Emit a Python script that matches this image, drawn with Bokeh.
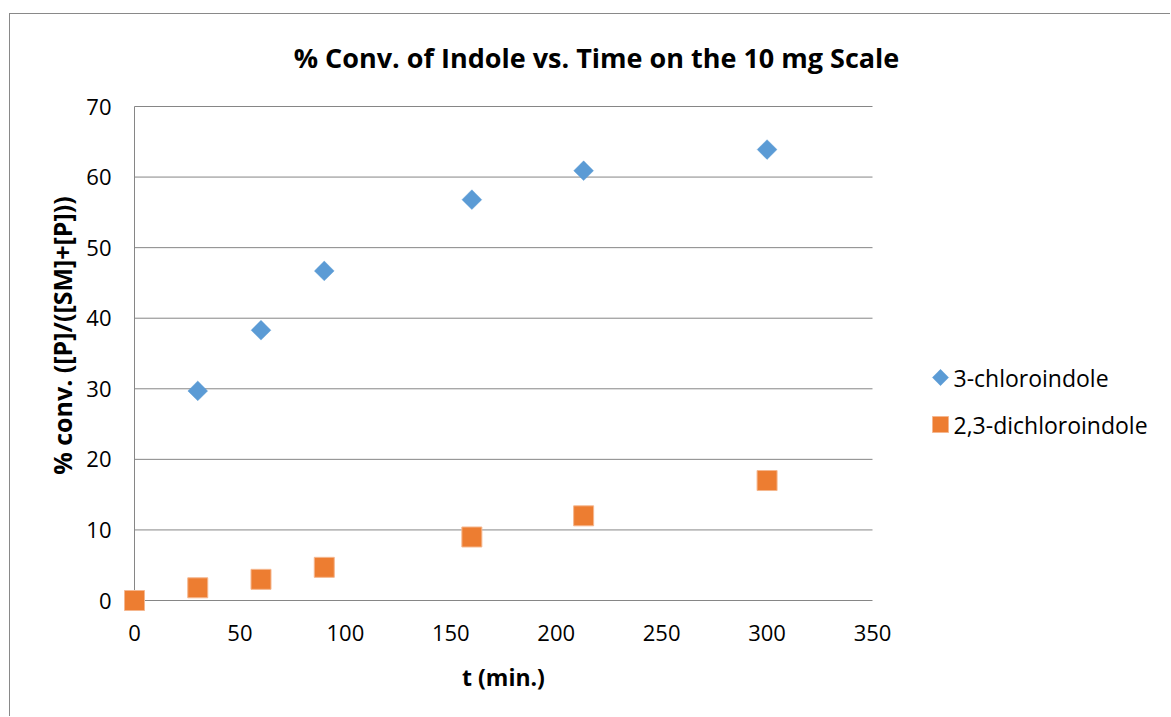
import math
from bokeh.plotting import figure
from bokeh.models import Label, FixedTicker
from bokeh.embed import file_html
from bokeh.resources import INLINE

title_text = "% Conv. of Indole vs. Time on the 10 mg Scale"
x_label = "t (min.)"
y_label = "% conv. ([P]/([SM]+[P]))"
series_names = ["3-chloroindole", "2,3-dichloroindole"]

t_chloro = [30, 60, 90, 160, 213, 300]
conv_chloro = [29.7, 38.3, 46.7, 56.8, 60.9, 63.9]

t_dichloro = [0, 30, 60, 90, 160, 213, 300]
conv_dichloro = [0.0, 1.8, 3.0, 4.7, 9.0, 12.0, 17.0]

x_ticks = [0, 50, 100, 150, 200, 250, 300, 350]
y_ticks = [0, 10, 20, 30, 40, 50, 60, 70]

FONT = "Open Sans"
GRID = "#868686"
BLUE = "#5B9BD5"
ORANGE = "#ED7D31"

# canvas geometry (canvas starts at page x=10, y=14 due to margin + border);
# the frame covers the whole canvas so nothing is clipped.
page_off_x, page_off_y = 10, 14
W, H = 1161, 703
plot_l, plot_r, plot_t, plot_b = 124, 862, 92, 586   # plot-area box in canvas px

x0, x1 = x_ticks[0], x_ticks[-1]
y0, y1 = y_ticks[0], y_ticks[-1]
kx = (x1 - x0) / (plot_r - plot_l)
ky = (y1 - y0) / (plot_b - plot_t)
x_range = (x0 - plot_l * kx, x1 + (W - plot_r) * kx)
y_range = (y0 - (H - plot_b) * ky, y1 + plot_t * ky)


def px_to_data(px, py):
    """page pixel -> data coordinates (for legend keys only)"""
    return (x0 + (px - page_off_x - plot_l) * kx,
            y0 + (plot_b - (py - page_off_y)) * ky)


def scr(px, py):
    """page pixel -> screen units relative to the frame's bottom-left"""
    return px - page_off_x, H - (py - page_off_y)


p = figure(width=W, height=H, x_range=x_range, y_range=y_range,
           output_backend="svg", toolbar_location=None,
           min_border_left=0, min_border_right=0,
           min_border_top=0, min_border_bottom=0)
p.margin = (13, 0, 0, 9)
p.styles = {"border-left": "1px solid #898989", "border-top": "1px solid #898989"}
p.outline_line_color = None
p.background_fill_color = "white"
p.border_fill_color = "white"

for ax, ticks in ((p.xaxis, x_ticks), (p.yaxis, y_ticks)):
    ax.ticker = FixedTicker(ticks=ticks)
    ax.fixed_location = 0
    ax.axis_line_color = None
    ax.major_tick_line_color = None
    ax.minor_tick_line_color = None
    ax.major_label_text_font = FONT
    ax.major_label_text_font_size = "22px"
    ax.major_label_text_color = "black"

p.xaxis.bounds = (x0, x1)
p.yaxis.bounds = (y0, y1)
p.xaxis.major_label_standoff = 18
p.yaxis.major_label_standoff = 17

p.xgrid.grid_line_color = None
p.ygrid.grid_line_color = None

# horizontal gridlines + x axis line, limited to the plot area
n = len(y_ticks)
p.segment(x0=[x0] * n, x1=[x1] * n, y0=y_ticks, y1=y_ticks,
          line_color=GRID, line_width=1)
# y axis line
p.segment(x0=[x0], x1=[x0], y0=[y0], y1=[y1], line_color=GRID, line_width=1)

p.scatter(t_chloro, conv_chloro, marker="square", angle=math.pi / 4,
          size=14, fill_color=BLUE, line_color=BLUE, line_alpha=0.4)
p.scatter(t_dichloro, conv_dichloro, marker="square",
          size=20, fill_color=ORANGE, line_color="#F5B78F", line_width=1)

# legend (keys drawn with the same markers as the series)
key_rows_y = [377, 424]
key_x = 940
kpts = [px_to_data(key_x, yy) for yy in key_rows_y]
p.scatter([kpts[0][0]], [kpts[0][1]], marker="square", angle=math.pi / 4,
          size=11.5, fill_color=BLUE, line_color=BLUE, line_alpha=0.4)
p.scatter([kpts[1][0]], [kpts[1][1]], marker="square",
          size=16, fill_color=ORANGE, line_color="#F5B78F", line_width=1)
for name, yy in zip(series_names, key_rows_y):
    lx, ly = scr(953, yy)
    p.add_layout(Label(x=lx, y=ly, x_units="screen", y_units="screen", text=name,
                       text_align="left", text_baseline="middle",
                       text_font=FONT, text_font_size="23px", text_color="black"))

# title and axis titles
tx, ty = scr(596, 57)
p.add_layout(Label(x=tx, y=ty, x_units="screen", y_units="screen", text=title_text,
                   text_align="center", text_baseline="middle",
                   text_font=FONT, text_font_style="bold", text_font_size="27px",
                   text_color="black"))
ax_x, ax_y = scr(503, 676)
p.add_layout(Label(x=ax_x, y=ax_y, x_units="screen", y_units="screen", text=x_label,
                   text_align="center", text_baseline="middle",
                   text_font=FONT, text_font_style="bold", text_font_size="23px",
                   text_color="black"))
ay_x, ay_y = scr(61, 335)
p.add_layout(Label(x=ay_x, y=ay_y, x_units="screen", y_units="screen", text=y_label,
                   angle=math.pi / 2, text_align="center", text_baseline="middle",
                   text_font=FONT, text_font_style="bold", text_font_size="25px",
                   text_color="black"))

open("out.html", "w").write(file_html(p, INLINE))
